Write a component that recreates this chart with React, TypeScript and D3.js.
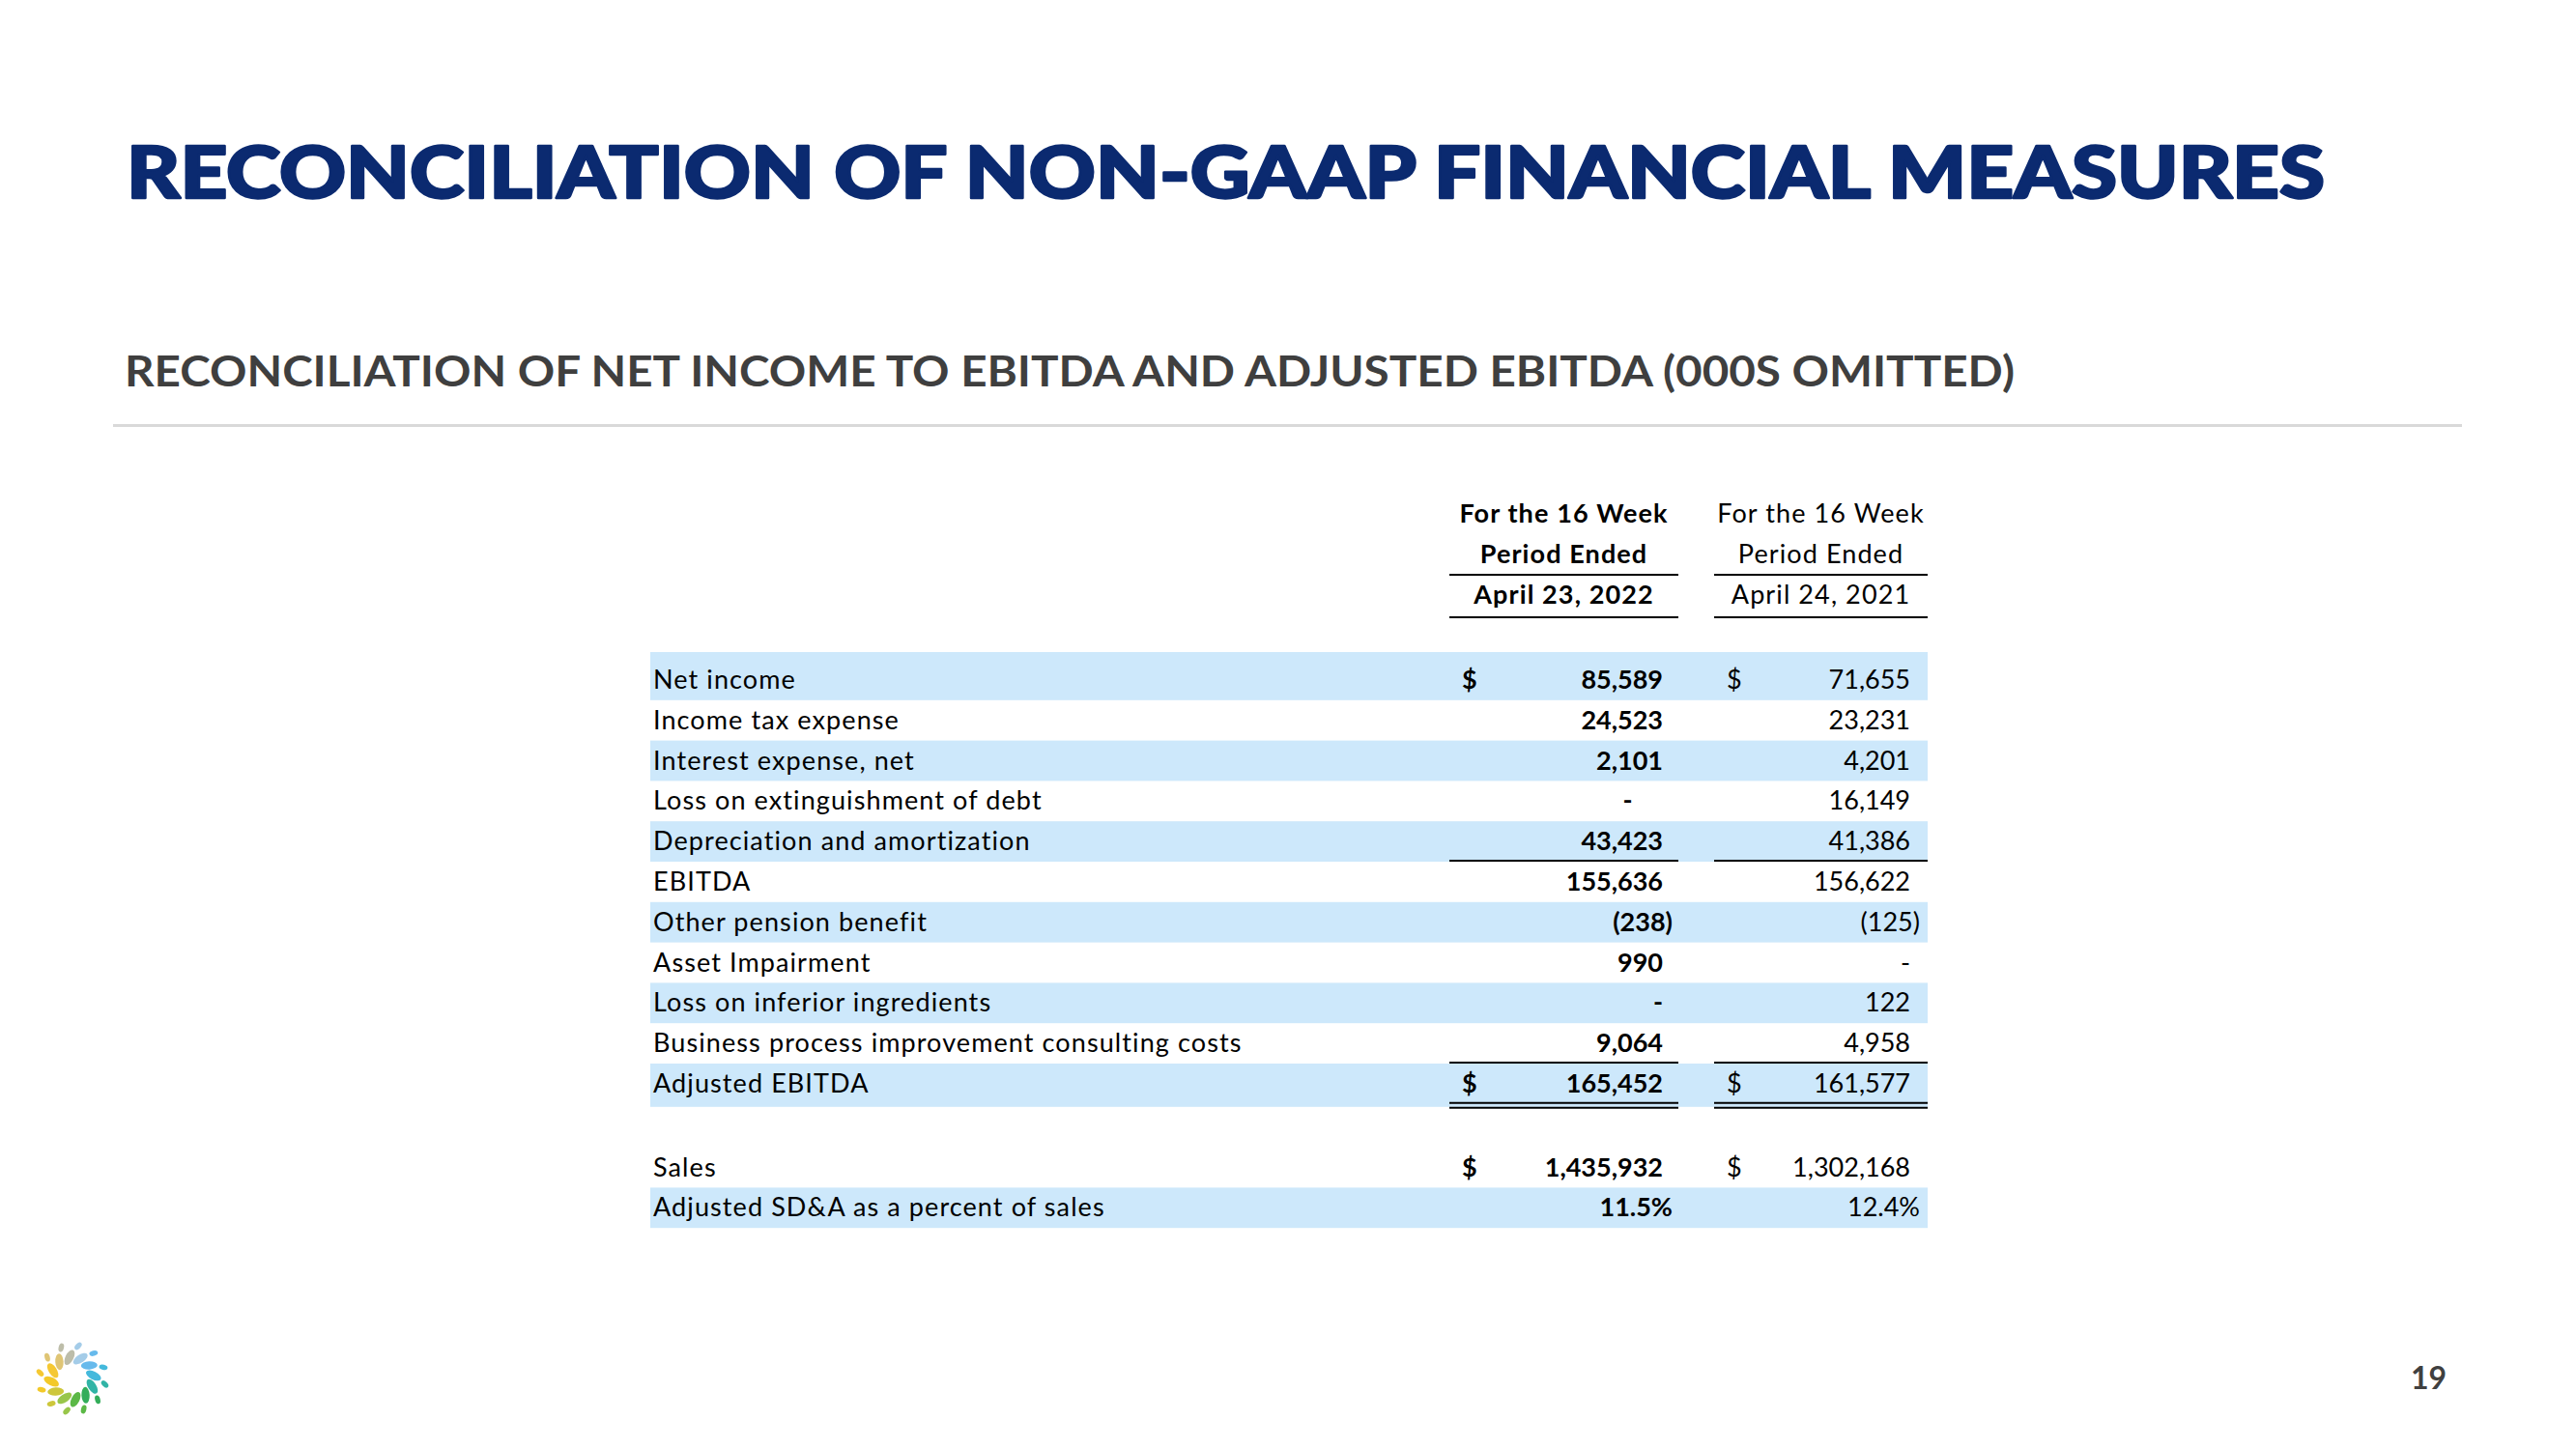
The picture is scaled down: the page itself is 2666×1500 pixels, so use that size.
import React from "react";
import * as d3 from "d3";

const TITLE = "RECONCILIATION OF NON-GAAP FINANCIAL MEASURES";
const SUBTITLE = "RECONCILIATION OF NET INCOME TO EBITDA AND ADJUSTED EBITDA (000S OMITTED)";
const PAGE = "19";

const header2022 = ["For the 16 Week", "Period Ended", "April 23, 2022"];
const header2021 = ["For the 16 Week", "Period Ended", "April 24, 2021"];

const labels = [
  "Net income",
  "Income tax expense",
  "Interest expense, net",
  "Loss on extinguishment of debt",
  "Depreciation and amortization",
  "EBITDA",
  "Other pension benefit",
  "Asset Impairment",
  "Loss on inferior ingredients",
  "Business process improvement consulting costs",
  "Adjusted EBITDA",
  "",
  "Sales",
  "Adjusted SD&A as a percent of sales",
];

const values2022 = [
  "85,589", "24,523", "2,101", "-\u2007\u2007", "43,423", "155,636", "(238)", "990", "-", "9,064", "165,452", "", "1,435,932", "11.5%",
];
const values2021 = [
  "71,655", "23,231", "4,201", "16,149", "41,386", "156,622", "(125)", "-", "122", "4,958", "161,577", "", "1,302,168", "12.4%",
];

const dollarRows = [0, 10, 12];
const bandRows = [0, 2, 4, 6, 8, 10, 13];
const singleUnderRows = [4, 9];
const doubleUnderRows = [10];

const logoColors = [
  "#b7b7a2", "#9cc8e6", "#5ab4ea", "#34b3d9", "#1fae9e", "#22a64c",
  "#4db236", "#8fc13b", "#c9c22a", "#f2c417", "#f4c322", "#dcc069",
];

const FONT = "Lato, 'Noto Sans', sans-serif";

export default function App() {
  const rowTop = (i: number) =>
    d3.scaleLinear().domain([0, 1]).range([683, 724.8])(i) + (i >= 12 ? 3 : 0);
  const rowH = 41.8;

  const col = [
    { x0: 1500, x1: 1737, right: 1721, dollar: 1513, bold: true, vals: values2022, head: header2022 },
    { x0: 1774, x1: 1995, right: 1977, dollar: 1787, bold: false, vals: values2021, head: header2021 },
  ];
  const bandX0 = 673;
  const bandX1 = 1995;
  const labelX = 676;
  const FS = 27;
  const LS = 1.1;

  const anchorX = (v: string, right: number) =>
    /[)%]$/.test(v) ? right + 10 : right;

  const logoCx = 75;
  const logoCy = 1427;
  const angle = d3.scaleLinear().domain([0, logoColors.length]).range([-98, 262]);

  return (
    <svg
      width={2666}
      height={1500}
      style={{ position: "absolute", left: 0, top: 0, display: "block", background: "#fff" }}
    >
      <rect x={0} y={0} width={2666} height={1500} fill="#ffffff" />
      <text
        x={131}
        y={205}
        fontFamily={FONT}
        fontWeight={900}
        fontSize={74}
        fill="#0b2a70"
        stroke="#0b2a70"
        strokeWidth={2.5}
        strokeLinejoin="round"
        textLength={2275}
        lengthAdjust="spacingAndGlyphs"
      >
        {TITLE}
      </text>
      <text
        x={129}
        y={400}
        fontFamily={FONT}
        fontWeight={700}
        fontSize={43}
        fill="#3f3f3f"
        textLength={1956}
        lengthAdjust="spacingAndGlyphs"
      >
        {SUBTITLE}
      </text>
      <line x1={117} x2={2548} y1={440.5} y2={440.5} stroke="#d9d9d9" strokeWidth={3} />

      {/* column headers */}
      {col.map((c, ci) => (
        <g key={"h" + ci}>
          {c.head.map((t, k) => (
            <text
              key={k}
              x={(c.x0 + c.x1) / 2}
              y={541 + k * 41.8}
              textAnchor="middle"
              fontFamily={FONT}
              fontWeight={c.bold ? 700 : 400}
              fontSize={FS}
              letterSpacing={LS}
              fill="#000"
            >
              {t}
            </text>
          ))}
          <line x1={c.x0} x2={c.x1} y1={595} y2={595} stroke="#000" strokeWidth={2} />
          <line x1={c.x0} x2={c.x1} y1={639} y2={639} stroke="#000" strokeWidth={2} />
        </g>
      ))}

      {/* bands */}
      {bandRows.map((r) => (
        <rect
          key={"b" + r}
          x={bandX0}
          y={rowTop(r) - (r === 0 ? 8 : 0)}
          width={bandX1 - bandX0}
          height={rowH + (r === 0 ? 8 : 0) + (r === 10 ? 3 : 0)}
          fill="#cde8fb"
        />
      ))}

      {/* labels */}
      {labels.map((l, i) => (
        <text
          key={"l" + i}
          x={labelX}
          y={rowTop(i) + 30}
          fontFamily={FONT}
          fontSize={FS}
          letterSpacing={LS}
          fill="#000"
        >
          {l}
        </text>
      ))}

      {/* values */}
      {col.map((c, ci) => (
        <g key={"c" + ci}>
          {c.vals.map((v, i) =>
            v === "" ? null : (
              <text
                key={i}
                x={anchorX(v, c.right)}
                y={rowTop(i) + 30}
                textAnchor="end"
                fontFamily={FONT}
                fontWeight={c.bold ? 700 : 400}
                fontSize={FS}
                fill="#000"
                style={{ whiteSpace: "pre" }}
              >
                {v}
              </text>
            )
          )}
          {dollarRows.map((r) => (
            <text
              key={"d" + r}
              x={c.dollar}
              y={rowTop(r) + 30}
              fontFamily={FONT}
              fontWeight={c.bold ? 700 : 400}
              fontSize={FS}
              fill="#000"
            >
              $
            </text>
          ))}
          {singleUnderRows.map((r) => (
            <line
              key={"s" + r}
              x1={c.x0}
              x2={c.x1}
              y1={rowTop(r + 1) - 1}
              y2={rowTop(r + 1) - 1}
              stroke="#000"
              strokeWidth={2}
            />
          ))}
          {doubleUnderRows.map((r) => (
            <g key={"dd" + r}>
              <line x1={c.x0} x2={c.x1} y1={rowTop(r + 1) - 1} y2={rowTop(r + 1) - 1} stroke="#000" strokeWidth={2} />
              <line x1={c.x0} x2={c.x1} y1={rowTop(r + 1) + 4} y2={rowTop(r + 1) + 4} stroke="#000" strokeWidth={2} />
            </g>
          ))}
        </g>
      ))}

      {/* logo */}
      <g>
        {logoColors.map((clr, i) => {
          const a = angle(i);
          const rad = (a * Math.PI) / 180;
          const x = logoCx + 22 * Math.cos(rad);
          const y = logoCy + 22 * Math.sin(rad);
          return (
            <ellipse
              key={"in" + i}
              cx={x}
              cy={y}
              rx={8.5}
              ry={4.2}
              fill={clr}
              opacity={0.92}
              transform={`rotate(${a + 35} ${x} ${y})`}
            />
          );
        })}
        {logoColors.map((clr, i) => {
          const a = angle(i) - 12;
          const rad = (a * Math.PI) / 180;
          const x = logoCx + 34 * Math.cos(rad);
          const y = logoCy + 34 * Math.sin(rad);
          return (
            <ellipse
              key={"out" + i}
              cx={x}
              cy={y}
              rx={4.5}
              ry={2.7}
              fill={clr}
              opacity={0.92}
              transform={`rotate(${a + 35} ${x} ${y})`}
            />
          );
        })}
      </g>

      <text x={2532} y={1438} textAnchor="end" fontFamily={FONT} fontWeight={700} fontSize={32} fill="#404040">
        {PAGE}
      </text>
    </svg>
  );
}
